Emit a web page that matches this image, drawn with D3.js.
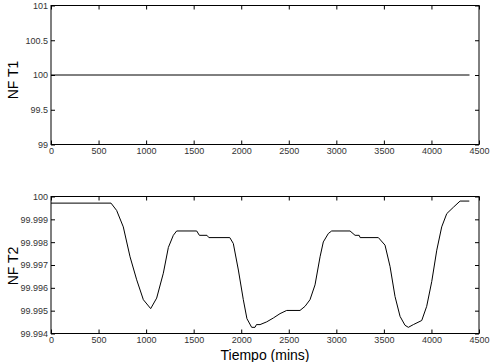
<!DOCTYPE html>
<html>
<head>
<meta charset="utf-8">
<script src="https://cdn.jsdelivr.net/npm/d3@7/dist/d3.min.js"></script>
<style>
	body { margin: 0; background: #fff; }
	svg { display: block; }
	.tick text { font-family: Arial, "Liberation Sans", sans-serif; font-size: 9px; fill: #333; }
	.lbl { font-family: Arial, "Liberation Sans", sans-serif; font-size: 14px; fill: #000; }
</style>
</head>
<body>
<div id="chart"></div>
<script>
// x axis ticks (shared by both panels)
var xTicks = [0, 500, 1000, 1500, 2000, 2500, 3000, 3500, 4000, 4500];

// top panel: NF T1
var t1Ticks = [99, 99.5, 100, 100.5, 101];
var t1Time = [0, 4400];
var t1Value = [100, 100];

// bottom panel: NF T2
var t2Ticks = [99.994, 99.995, 99.996, 99.997, 99.998, 99.999, 100];
var t2Time = [0, 631, 690, 760, 831, 901, 971, 1048, 1111, 1181, 1234, 1286, 1321, 1532, 1560, 1640, 1660, 1880,
	1917, 1970, 2022, 2060, 2110, 2145, 2160, 2198, 2268, 2338, 2408, 2478, 2618, 2671, 2723, 2776, 2829, 2863,
	2916, 2951, 3144, 3197, 3240, 3250, 3442, 3512, 3565, 3617, 3670, 3722, 3757, 3810, 3898, 3950, 4003, 4056,
	4108, 4161, 4231, 4301, 4398];
var t2Value = [99.99971, 99.99971, 99.99939, 99.99867, 99.99736, 99.99635, 99.99548, 99.99509, 99.99555, 99.99664,
	99.99777, 99.9983, 99.99849, 99.99849, 99.9983, 99.9983, 99.9982, 99.9982,
	99.99794, 99.99678, 99.99548, 99.99465, 99.99427, 99.99427, 99.99439, 99.99439, 99.99451, 99.99468, 99.99487,
	99.99501, 99.99501, 99.99519, 99.99548, 99.99613, 99.99736, 99.99801,
	99.99838, 99.99849, 99.99849, 99.9983, 99.9983, 99.9982, 99.9982, 99.99787, 99.99693, 99.99562, 99.99475,
	99.99436, 99.99427, 99.99439, 99.99457, 99.99519, 99.99627, 99.99765,
	99.99867, 99.99925, 99.99953, 99.9998, 99.9998];

const width = 490;
const height = 362;

const svg = d3.select('#chart')
	.append('svg')
	.attr('width', width)
	.attr('height', height);

// one panel: box with inward ticks on all four sides
function drawPanel(top, bottom, yDomain, yTicks, yFmt, times, values, label, labelY) {
	const left = 51, right = 479;
	const x = d3.scaleLinear().domain([0, 4500]).range([left, right]);
	const y = d3.scaleLinear().domain(yDomain).range([bottom, top]);

	const g = svg.append('g');

	g.append('g')
		.attr('transform', `translate(0, ${bottom})`)
		.call(d3.axisBottom(x).tickValues(xTicks).tickSizeInner(-4).tickSizeOuter(0).tickPadding(3).tickFormat(d => String(d)))
		.call(g => g.select('.domain').remove());
	g.append('g')
		.attr('transform', `translate(0, ${top})`)
		.call(d3.axisTop(x).tickValues(xTicks).tickSizeInner(-4).tickSizeOuter(0).tickFormat(''))
		.call(g => g.select('.domain').remove());
	g.append('g')
		.attr('transform', `translate(${left}, 0)`)
		.call(d3.axisLeft(y).tickValues(yTicks).tickSizeInner(-4).tickSizeOuter(0).tickPadding(3).tickFormat(yFmt))
		.call(g => g.select('.domain').remove());
	g.append('g')
		.attr('transform', `translate(${right}, 0)`)
		.call(d3.axisRight(y).tickValues(yTicks).tickSizeInner(-4).tickSizeOuter(0).tickFormat(''))
		.call(g => g.select('.domain').remove());

	g.selectAll('.tick line').attr('stroke', '#000');

	g.append('rect')
		.attr('x', left)
		.attr('y', top)
		.attr('width', right - left)
		.attr('height', bottom - top)
		.attr('fill', 'none')
		.attr('stroke', '#000')
		.attr('stroke-width', 1);

	const line = d3.line()
		.x((d, i) => x(times[i]))
		.y(d => y(d));

	g.append('path')
		.datum(values)
		.attr('d', line)
		.attr('fill', 'none')
		.attr('stroke', '#000')
		.attr('stroke-width', 1);

	g.append('text')
		.attr('class', 'lbl')
		.attr('text-anchor', 'middle')
		.attr('transform', `translate(18, ${labelY}) rotate(-90)`)
		.text(label);
}

drawPanel(5.5, 144.5, [99, 101], t1Ticks, d => String(d), t1Time, t1Value, 'NF T1', 80);
drawPanel(196.5, 333.5, [99.994, 100], t2Ticks, d => d == 100 ? '100' : d3.format('.3f')(d), t2Time, t2Value, 'NF T2', 266);

svg.append('text')
	.attr('class', 'lbl')
	.attr('text-anchor', 'middle')
	.attr('x', 265)
	.attr('y', 360)
	.text('Tiempo (mins)');
</script>
</body>
</html>
